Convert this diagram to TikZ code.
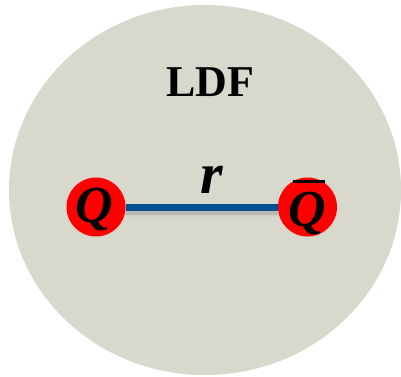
\documentclass[tikz,border=0pt]{standalone}
\usepackage{fontspec}
\setmainfont{Liberation Serif}
\definecolor{bgc}{HTML}{D9D8CC}
\definecolor{bondc}{HTML}{00508F}
\begin{document}
\begin{tikzpicture}[x=1pt,y=-1pt,
  quark/.style={circle,fill=red,minimum size=59pt,inner sep=0pt},
  qtext/.style={inner sep=0pt,font=\fontsize{52}{52}\selectfont\bfseries\itshape},
  lbl/.style={inner sep=0pt}]
\useasboundingbox (0,0) rectangle (401,376);
\fill[bgc] (205,190) ellipse [x radius=196, y radius=185];
\node[lbl,font=\fontsize{44}{44}\selectfont\bfseries] (ldf) at (210,82) {LDF};
\node[quark] (q1) at (96,207) {};
\node[quark] (q2) at (307.5,207) {};
\fill[black!35,opacity=0.6] ([yshift=-2]q1.east) rectangle ([yshift=-8]q2.west);
\fill[black!20,opacity=0.5] ([yshift=-8]q1.east) rectangle ([yshift=-10]q2.west);
\draw[bondc,line width=7pt] (q1.east) -- (q2.west);
\node[qtext] (qa) at (94,209) {Q};
\node[qtext] (qb) at (307.5,213) {Q};
\draw[black,line width=3pt] (293,181) -- (325,181);
\node[lbl,font=\fontsize{58}{58}\selectfont\bfseries\itshape] (r) at (212,180) {r};
\end{tikzpicture}
\end{document}
